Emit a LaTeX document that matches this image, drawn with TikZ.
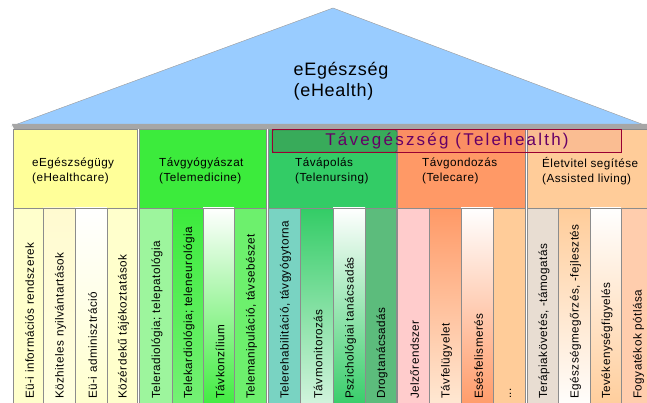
\documentclass[tikz,border=0pt]{standalone}
\usepackage{fontspec}
\setmainfont{Liberation Sans}[LetterSpace=4]
\usetikzlibrary{positioning}

\definecolor{roofblue}{HTML}{99CCFF}
\definecolor{framegray}{HTML}{8C8C8C}
\definecolor{hcyellow}{HTML}{FFFF99}
\definecolor{tmgreen}{HTML}{3CEB3C}
\definecolor{tngreen}{HTML}{33CC66}
\definecolor{tcorange}{HTML}{FF9966}
\definecolor{alpeach}{HTML}{FFCC99}
\definecolor{thpurple}{HTML}{660066}

\tikzset{
  pillarbox/.style={draw=framegray, line width=0.8pt},
  headlabel/.style={align=left, anchor=west, inner sep=0pt, font=\fontsize{11.7}{15}\selectfont},
  pillarlabel/.style={rotate=90, anchor=west, inner sep=0pt, font=\fontsize{11.7}{14}\selectfont},
}

\begin{document}
\begin{tikzpicture}[x=1pt,y=-1pt]
\useasboundingbox (0,0) rectangle (647,403);
\clip (0,0) rectangle (647,403);

% The roof
\filldraw[fill=roofblue,draw=gray!80] (12,126) -- (333,8) -- (647,126) -- cycle;
\fill[color=gray!70] (12,124) -- (647,124) -- (647,129) -- (14,129) -- cycle;
\node[align=left,inner sep=0pt,font=\fontsize{18}{21}\selectfont] (health) at (341,81) {eEgészség\\(eHealth)};

% The headers
\filldraw[pillarbox,fill=hcyellow] (13,129) rectangle (137,208);
\filldraw[pillarbox,fill=tmgreen] (139,129) rectangle (266,208);
\filldraw[pillarbox,fill=tngreen] (268,129) rectangle (396,208);
\filldraw[pillarbox,fill=tcorange] (397,129) rectangle (525,208);
\filldraw[pillarbox,fill=alpeach] (527,129) rectangle (653,208);

% The pillars: eHealthcare
\fill[color=hcyellow!50] (13,208) rectangle (43,410);
\shade[top color=hcyellow!90!orange!40, bottom color=hcyellow!30] (43,208) rectangle (75,410);
\shade[top color=white, bottom color=hcyellow!50] (75,208) rectangle (107,410);
\fill[color=hcyellow!50] (107,208) rectangle (137,410);

% The pillars: Telemedicine
\fill[color=tmgreen!50] (139,208) rectangle (172,410);
\shade[top color=tmgreen, middle color=tmgreen!20, bottom color=tmgreen!70] (172,208) rectangle (203,410);
\shade[top color=white, middle color=tmgreen!40, bottom color=tmgreen] (203,208) rectangle (234,410);
\fill[color=tmgreen!75] (234,208) rectangle (266,410);

% The pillars: Telenursing
\fill[color=tngreen!40!cyan!60!gray!70] (268,208) rectangle (300,410);
\shade[top color=tngreen, middle color=tngreen!60!gray!90, bottom color=tngreen!20] (300,208) rectangle (333,410);
\shade[top color=white, middle color=tngreen!45, bottom color=tngreen] (333,208) rectangle (365,410);
\fill[color=tngreen!70!gray!90] (365,208) rectangle (396,410);

% The pillars: Telecare
\fill[color=red!20] (397,208) rectangle (429,410);
\shade[top color=tcorange, middle color=alpeach, bottom color=alpeach!40] (429,208) rectangle (461,410);
\shade[top color=white, middle color=alpeach!50, bottom color=tcorange] (461,208) rectangle (493,410);
\fill[color=alpeach] (493,208) rectangle (525,410);

% The pillars: Assisted living
\fill[color=alpeach!55!gray!40] (527,208) rectangle (558,410);
\shade[top color=alpeach, bottom color=white] (558,208) rectangle (590,410);
\shade[top color=white, middle color=yellow!15, bottom color=alpeach] (590,208) rectangle (621,410);
\fill[color=red!10!alpeach!70] (621,208) rectangle (653,410);

% The pillar frames
\draw[pillarbox] (13,208) rectangle (137,410);
\draw[pillarbox] (139,208) rectangle (266,410);
\draw[pillarbox] (268,208) rectangle (396,410);
\draw[pillarbox] (397,208) rectangle (525,410);
\draw[pillarbox] (527,208) rectangle (653,410);
\draw[pillarbox] (43,208) -- (43,410) (75,208) -- (75,410) (107,208) -- (107,410);
\draw[pillarbox] (172,208) -- (172,410) (203,208) -- (203,410) (234,208) -- (234,410);
\draw[pillarbox] (300,208) -- (300,410) (333,208) -- (333,410) (365,208) -- (365,410);
\draw[pillarbox] (429,208) -- (429,410) (461,208) -- (461,410) (493,208) -- (493,410);
\draw[pillarbox] (558,208) -- (558,410) (590,208) -- (590,410) (621,208) -- (621,410);

% The Telehealth band
\filldraw[fill=tngreen!90!black,draw=gray!60!black,rounded corners=2pt] (272,130) rectangle (397,152);
\filldraw[draw=purple!80!black,fill=purple,fill opacity=0.07] (272,129.5) rectangle (621,152);
\node[text=thpurple,inner sep=0pt,font=\fontsize{17}{19}\selectfont\addfontfeature{LetterSpace=13}] (th) at (447,141) {Távegészség (Telehealth)};

% The header labels
\node[headlabel] (hc) at (32,171) {eEgészségügy\\(eHealthcare)};
\node[headlabel] (tm) at (159,171) {Távgyógyászat\\(Telemedicine)};
\node[headlabel] (tn) at (295,171) {Távápolás\\(Telenursing)};
\node[headlabel] (tc) at (422,171) {Távgondozás\\(Telecare)};
\node[headlabel] (al) at (542,171) {Életvitel segítése\\(Assisted living)};

% The pillar labels
\node[pillarlabel] (hc1) at (29.5,399) {Eü-i információs rendszerek};
\node[pillarlabel] (hc2) at (60.5,399) {Közhiteles nyilvántartások};
\node[pillarlabel] (hc3) at (92.5,399) {Eü-i adminisztráció};
\node[pillarlabel] (hc4) at (123.5,399) {Közérdekű tájékoztatások};

\node[pillarlabel] (tm1) at (157,399) {Teleradiológia; telepatológia};
\node[pillarlabel] (tm2) at (189,399) {Telekardiológia; teleneurológia};
\node[pillarlabel] (tm3) at (220,399) {Távkonzílium};
\node[pillarlabel] (tm4) at (251.5,399) {Telemanipuláció, távsebészet};

\node[pillarlabel] (tn1) at (285.5,399) {Telerehabilitáció, távgyógytorna};
\node[pillarlabel] (tn2) at (318,399) {Távmonitorozás};
\node[pillarlabel] (tn3) at (350.5,399) {Pszichológiai tanácsadás};
\node[pillarlabel] (tn4) at (382,399) {Drogtanácsadás};

\node[pillarlabel] (tc1) at (414.5,399) {Jelzőrendszer};
\node[pillarlabel] (tc2) at (446.5,399) {Távfelügyelet};
\node[pillarlabel] (tc3) at (478.5,399) {Esésfelismerés};
\node[pillarlabel] (tc4) at (510.5,399) {...};

\node[pillarlabel] (al1) at (544,399) {Terápiakövetés, -támogatás};
\node[pillarlabel] (al2) at (575.5,399) {Egészségmegőrzés, -fejlesztés};
\node[pillarlabel] (al3) at (607,399) {Tevékenységfigyelés};
\node[pillarlabel] (al4) at (638.5,399) {Fogyatékok pótlása};

\end{tikzpicture}
\end{document}
